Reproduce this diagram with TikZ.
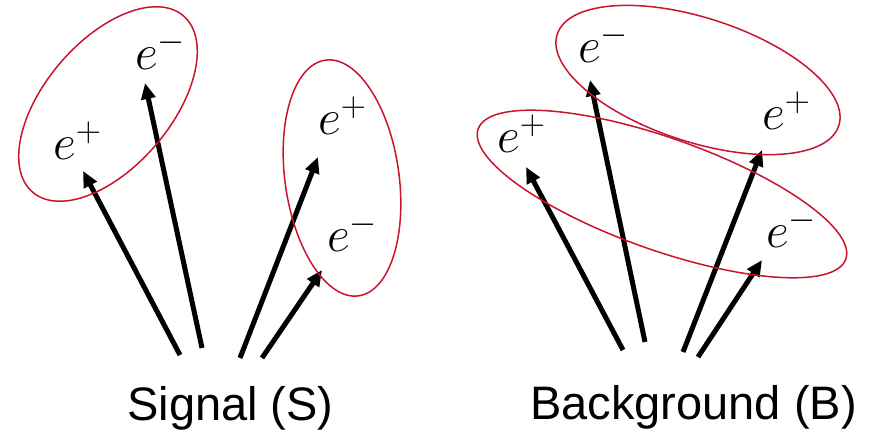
\RequirePackage{fix-cm}
\documentclass[tikz,border=0pt]{standalone}
\usepackage{fontspec}
\setmainfont{Liberation Sans}
\usepackage{tikz}
\usetikzlibrary{arrows.meta}
\definecolor{pairred}{RGB}{200,20,45}

\begin{document}
\begin{tikzpicture}[x=1pt,y=1pt,>={Triangle[length=16pt,width=14pt]},
  track/.style={->,line width=5pt},
  pair/.style={draw=pairred,line width=1.5pt},
  lep/.style={anchor=base west,inner sep=0pt,font=\fontsize{50}{60}\selectfont}]
  \useasboundingbox (0,0) rectangle (871,434);
  % signal: lepton labels
  \node[lep] (s1) at (53,274) {$e^+$};
  \node[lep] (s2) at (135,364) {$e^-$};
  \node[lep] (s3) at (318,299) {$e^+$};
  \node[lep] (s4) at (327,182) {$e^-$};
  % signal: track ends
  \coordinate (s1t) at (180,79);  \coordinate (s1h) at (83,263);
  \coordinate (s2t) at (202,86);  \coordinate (s2h) at (145,351);
  \coordinate (s3t) at (240,76);  \coordinate (s3h) at (318,277);
  \coordinate (s4t) at (262,76);  \coordinate (s4h) at (322,164);
  \draw[track] (s1t) -- (s1h);
  \draw[track] (s2t) -- (s2h);
  \draw[track] (s3t) -- (s3h);
  \draw[track] (s4t) -- (s4h);
  % signal: pairings
  \draw[pair,rotate around={49.5:(108,330)}] (108,330) ellipse (116 and 63);
  \draw[pair,rotate around={98:(342,256)}] (342,256) ellipse (119 and 57);
  \node[anchor=base,font=\fontsize{47}{56}\selectfont] (sig) at (230.5,13) {Signal (S)};
  % background: lepton labels
  \node[lep] (b1) at (497,281) {$e^+$};
  \node[lep] (b2) at (578,371) {$e^-$};
  \node[lep] (b3) at (762,304) {$e^+$};
  \node[lep] (b4) at (766,186) {$e^-$};
  % background: track ends
  \coordinate (b1t) at (623,84);  \coordinate (b1h) at (526,267);
  \coordinate (b2t) at (645,92);  \coordinate (b2h) at (590,354);
  \coordinate (b3t) at (683,82);  \coordinate (b3h) at (762,284);
  \coordinate (b4t) at (698,77);  \coordinate (b4h) at (762,174);
  \draw[track] (b1t) -- (b1h);
  \draw[track] (b2t) -- (b2h);
  \draw[track] (b3t) -- (b3h);
  \draw[track] (b4t) -- (b4h);
  % background: wrong pairings
  \draw[pair,rotate around={-18:(698,354)}] (698,354) ellipse (148 and 62);
  \draw[pair,rotate around={-19.5:(662,240)}] (662,240) ellipse (195 and 56);
  \node[anchor=base,font=\fontsize{47}{56}\selectfont] (bkg) at (693.5,14) {Background (B)};
\end{tikzpicture}
\end{document}
